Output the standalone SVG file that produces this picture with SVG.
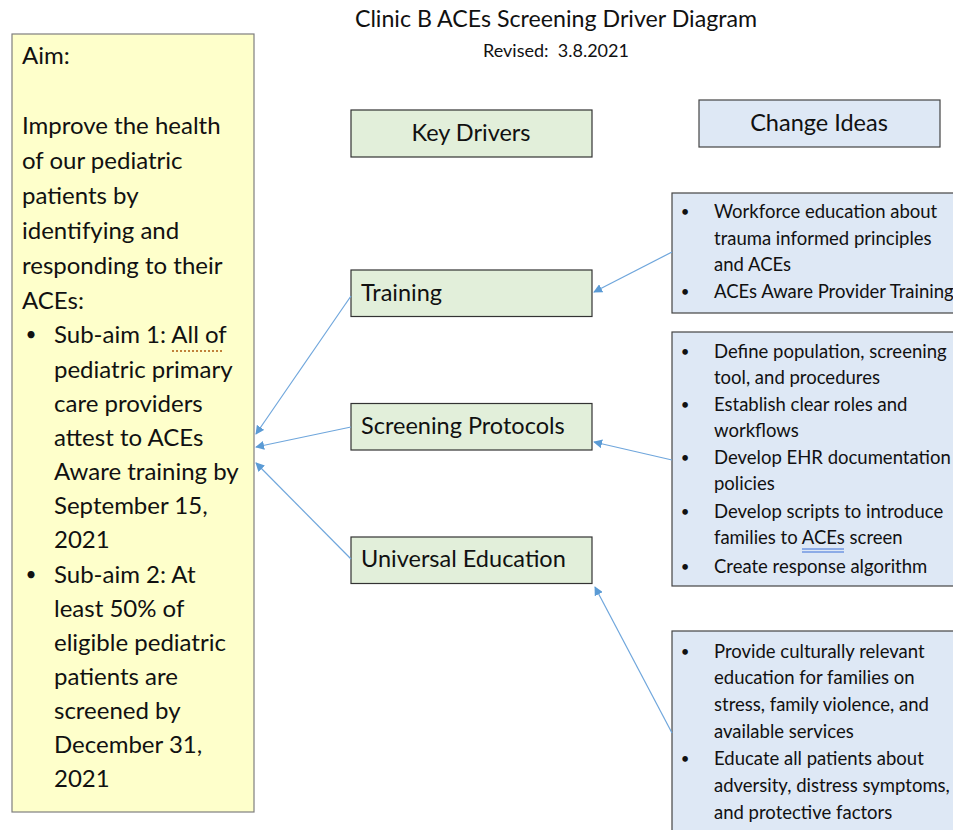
<svg xmlns="http://www.w3.org/2000/svg" width="953" height="830" viewBox="0 0 953 830">
<style>
text{font-family:Lato,"Open Sans","Liberation Sans",sans-serif;fill:#111}
.aim{fill:#FEFFCB;stroke:#7f7f7f;stroke-width:1.2}
.kd{fill:#E2EFDA;stroke:#333;stroke-width:1.2}
.ci{fill:#DEE8F5;stroke:#444;stroke-width:1.2}
.a{font-size:24px}
.k{font-size:23.5px}
.c{font-size:18.5px}
.b{text-anchor:middle;font-size:15px}
.ba{text-anchor:middle;font-size:19px}
.con{stroke:#6FA6DC;stroke-width:1.2;fill:none;marker-end:url(#ah)}
</style>
<defs>
<marker id="ah" viewBox="0 0 10 10" refX="9" refY="5" markerWidth="9" markerHeight="9" markerUnits="userSpaceOnUse" orient="auto">
<path d="M0,0 L10,5 L0,10 z" fill="#5B9BD5"/>
</marker>
</defs>
<rect width="953" height="830" fill="#fff"/>
<g id="title">
<text x="556" y="27" text-anchor="middle" font-size="23.2px">Clinic B ACEs Screening Driver Diagram</text>
<text x="556" y="57" text-anchor="middle" font-size="18px" xml:space="preserve">Revised:  3.8.2021</text>
</g>
<g id="aim">
<rect class="aim" x="12" y="34" width="242" height="778"/>
<g class="a">
<text x="22" y="64">Aim:</text>
<text x="22" y="134">Improve the health</text>
<text x="22" y="169">of our pediatric</text>
<text x="22" y="204">patients by</text>
<text x="22" y="239">identifying and</text>
<text x="22" y="274">responding to their</text>
<text x="22" y="309">ACEs:</text>
<text class="ba" x="31" y="341">•</text>
<text x="54" y="343">Sub-aim 1: All of</text>
<text x="54" y="378">pediatric primary</text>
<text x="54" y="412">care providers</text>
<text x="54" y="446">attest to ACEs</text>
<text x="54" y="480">Aware training by</text>
<text x="54" y="514">September 15,</text>
<text x="54" y="548">2021</text>
<text class="ba" x="31" y="581">•</text>
<text x="54" y="583">Sub-aim 2: At</text>
<text x="54" y="617">least 50% of</text>
<text x="54" y="651">eligible pediatric</text>
<text x="54" y="685">patients are</text>
<text x="54" y="719">screened by</text>
<text x="54" y="753">December 31,</text>
<text x="54" y="787">2021</text>
</g>
<line x1="172" y1="351" x2="222" y2="351" stroke="#C0803A" stroke-width="2" stroke-dasharray="2,2"/>
</g>
<g id="key-drivers">
<rect class="kd" x="351" y="110" width="241" height="47"/>
<text class="k" x="471" y="141" text-anchor="middle">Key Drivers</text>
</g>
<g id="change-ideas">
<rect class="ci" x="699" y="100" width="241" height="47"/>
<text class="k" x="819" y="131" text-anchor="middle">Change Ideas</text>
</g>
<g id="training">
<rect class="kd" x="351" y="270" width="241" height="46.5"/>
<text class="k" x="361" y="301">Training</text>
</g>
<g id="screening">
<rect class="kd" x="351" y="403.5" width="241" height="46.5"/>
<text class="k" x="361" y="434">Screening Protocols</text>
</g>
<g id="universal">
<rect class="kd" x="351" y="537" width="241" height="46.5"/>
<text class="k" x="361" y="567">Universal Education</text>
</g>
<g id="ci-training">
<rect class="ci" x="672" y="193" width="290" height="120"/>
<g class="c">
<text class="b" x="685" y="217">•</text><text x="714" y="218">Workforce education about</text>
<text x="714" y="245">trauma informed principles</text>
<text x="714" y="271">and ACEs</text>
<text class="b" x="685" y="297">•</text><text x="714" y="298">ACEs Aware Provider Training</text>
</g>
</g>
<g id="ci-screening">
<rect class="ci" x="672" y="332" width="290" height="254"/>
<g class="c">
<text class="b" x="685" y="357">•</text><text x="714" y="358">Define population, screening</text>
<text x="714" y="384">tool, and procedures</text>
<text class="b" x="685" y="410">•</text><text x="714" y="411">Establish clear roles and</text>
<text x="714" y="437">workflows</text>
<text class="b" x="685" y="463">•</text><text x="714" y="464">Develop EHR documentation</text>
<text x="714" y="490">policies</text>
<text class="b" x="685" y="517">•</text><text x="714" y="518">Develop scripts to introduce</text>
<text x="714" y="544">families to ACEs screen</text>
<text class="b" x="685" y="572">•</text><text x="714" y="573">Create response algorithm</text>
</g>
<line x1="802" y1="549" x2="844" y2="549" stroke="#3A6FD8" stroke-width="1"/>
<line x1="802" y1="552" x2="844" y2="552" stroke="#3A6FD8" stroke-width="1"/>
</g>
<g id="ci-education">
<rect class="ci" x="672" y="631" width="290" height="220"/>
<g class="c">
<text class="b" x="685" y="657">•</text><text x="714" y="658">Provide culturally relevant</text>
<text x="714" y="684">education for families on</text>
<text x="714" y="711">stress, family violence, and</text>
<text x="714" y="738">available services</text>
<text class="b" x="685" y="764">•</text><text x="714" y="765">Educate all patients about</text>
<text x="714" y="792">adversity, distress symptoms,</text>
<text x="714" y="819">and protective factors</text>
</g>
</g>
<g id="connectors">
<line class="con" x1="351" y1="296" x2="256" y2="434"/>
<line class="con" x1="351" y1="427" x2="256" y2="447"/>
<line class="con" x1="351" y1="559" x2="256" y2="463"/>
<line class="con" x1="672" y1="252" x2="594" y2="292"/>
<line class="con" x1="672" y1="460" x2="594" y2="442"/>
<line class="con" x1="672" y1="733" x2="595" y2="587"/>
</g>
</svg>
